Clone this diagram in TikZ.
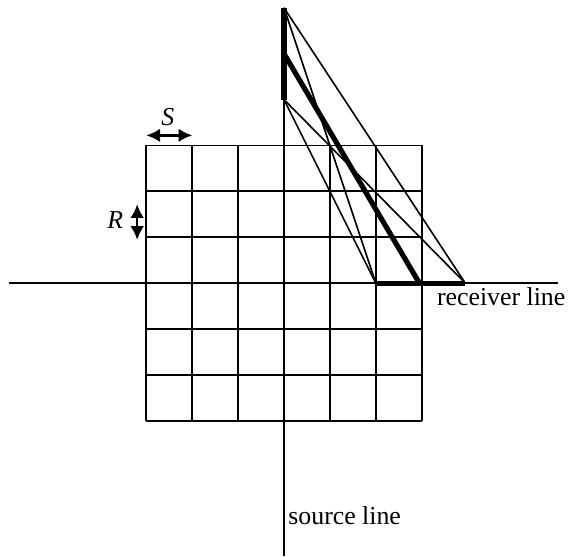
\documentclass[tikz,border=0pt]{standalone}
\usepackage{fontspec}
\setmainfont{Liberation Serif}
\usepackage{tikz}
\usetikzlibrary{arrows.meta,positioning}

\begin{document}
\begin{tikzpicture} [
        every node/.style={font=\fontsize{16}{18}\selectfont, inner sep=0pt},
        gridline/.style={line width=1.1pt},
        axisline/.style={line width=1.1pt},
        ray/.style={line width=1pt},
        spread/.style={line width=3.2pt},
        dim/.style={{Latex[length=8.5pt,width=8.5pt]}-{Latex[length=8.5pt,width=8.5pt]}, line width=1.6pt}
    ]
    \useasboundingbox (-6.19,-5.95) rectangle (6.19,6.17);

    % acquisition grid
    \draw[gridline] (-3,-3) grid (3,3);

    % source and receiver lines
    \coordinate (west)  at (-6,0);
    \coordinate (east)  at (5.97,0);
    \coordinate (south) at (0,-5.95);
    \coordinate (north) at (0,6);
    \draw[axisline] (west) -- (east);
    \draw[axisline] (south) -- (north);

    % source and receiver spreads
    \coordinate (src1) at (0,6);
    \coordinate (src2) at (0,4);
    \coordinate (srcmid) at (0,5);
    \coordinate (rcv1) at (2,0);
    \coordinate (rcv2) at (3.95,0);
    \coordinate (rcvmid) at (2.95,0);

    \draw[spread] (src1) -- (src2);
    \draw[spread] (rcv1) -- (rcv2);
    \draw[spread] (srcmid) -- (rcvmid);

    \path[ray]
    (src1) edge (rcv1)
           edge (rcv2)
    (src2) edge (rcv1)
           edge (rcv2);

    % cell dimensions
    \coordinate (sleft)  at (-3,3.22);
    \coordinate (sright) at (-2,3.22);
    \draw[dim] (sleft) -- (sright);
    \node (slabel) at (-2.53,3.62) {\itshape S};

    \coordinate (rtop) at (-3.2,1.72);
    \coordinate (rbot) at (-3.2,0.94);
    \draw[dim] (rtop) -- (rbot);
    \node (rlabel) at (-3.68,1.37) {\itshape R};

    % line labels
    \node[anchor=base west] (rcvtext) at (3.33,-0.48) {receiver line};
    \node[anchor=base west] (srctext) at (0.09,-5.27) {source line};
\end{tikzpicture}
\end{document}
